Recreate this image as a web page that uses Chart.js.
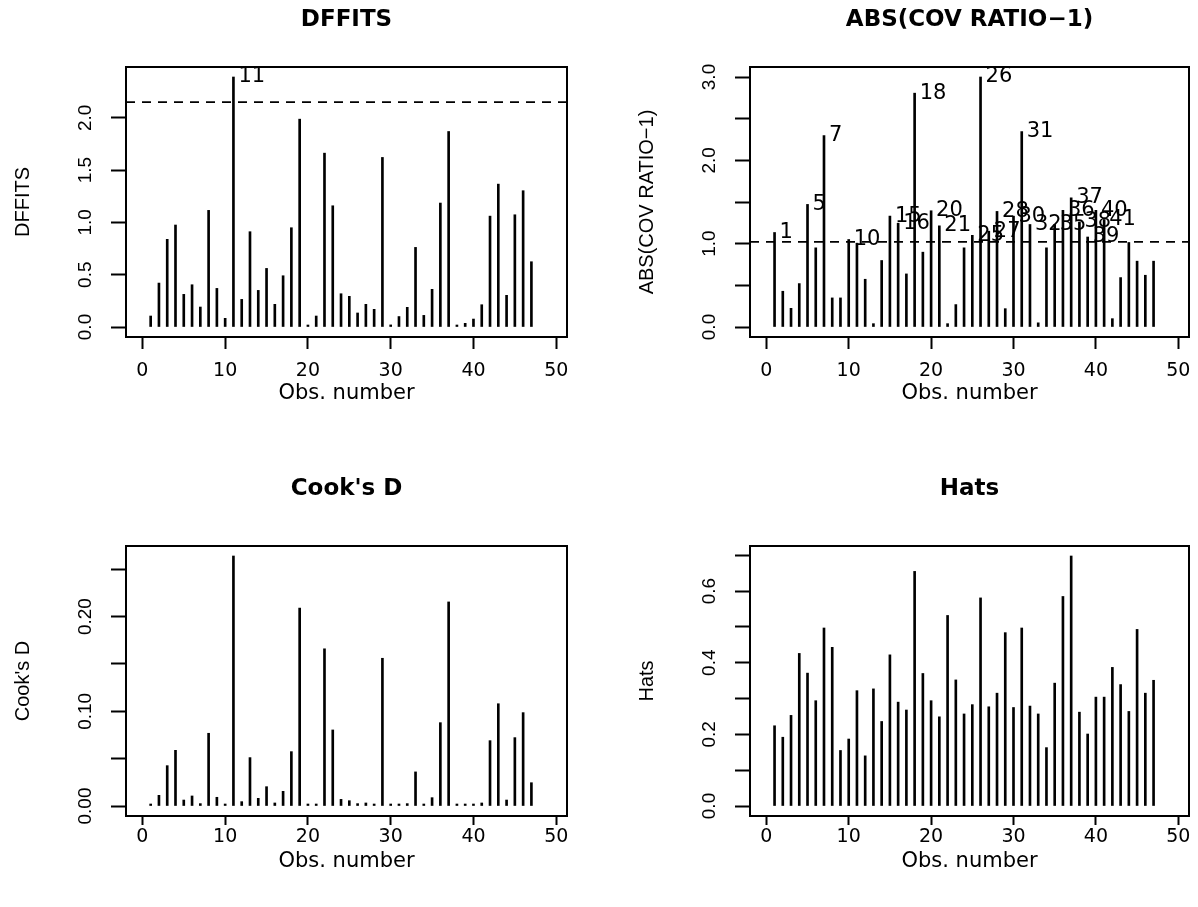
<!DOCTYPE html>
<html>
<head>
<meta charset="utf-8">
<script src="https://cdn.jsdelivr.net/npm/chart.js@4.4.0/dist/chart.umd.min.js"></script>
<style>
  html, body { margin: 0; padding: 0; background: #fff; }
  #wrap { position: relative; width: 1198px; height: 907px; overflow: hidden; background: #fff; }
  #wrap canvas { position: absolute; }
</style>
</head>
<body>
<div id="wrap">
  <canvas id="dffitsChart"></canvas>
  <canvas id="covChart"></canvas>
  <canvas id="cooksChart"></canvas>
  <canvas id="hatsChart"></canvas>
</div>
<script>
const obsNumbers = [1, 2, 3, 4, 5, 6, 7, 8, 9, 10, 11, 12, 13, 14, 15, 16, 17, 18, 19, 20,
  21, 22, 23, 24, 25, 26, 27, 28, 29, 30, 31, 32, 33, 34, 35, 36, 37, 38, 39, 40,
  41, 42, 43, 44, 45, 46, 47];
const dffitsValues = [0.105, 0.42, 0.838, 0.975, 0.312, 0.404, 0.191, 1.115, 0.369, 0.083,
  2.39, 0.264, 0.911, 0.35, 0.56, 0.217, 0.49, 0.949, 1.987, 0.01,
  0.105, 1.662, 1.159, 0.318, 0.293, 0.134, 0.217, 0.169, 1.621, 0.02,
  0.1, 0.188, 0.761, 0.111, 0.36, 1.185, 1.869, 0.01, 0.035, 0.076,
  0.213, 1.06, 1.366, 0.303, 1.073, 1.303, 0.624];
const covRatioValues = [1.134, 0.429, 0.224, 0.521, 1.471, 0.95, 2.297, 0.349, 0.349, 1.05,
  1.006, 0.573, 0.04, 0.798, 1.331, 1.246, 0.637, 2.806, 0.898, 1.395,
  1.214, 0.04, 0.269, 0.95, 1.10, 3.0, 1.15, 1.387, 0.22, 1.33,
  2.345, 1.23, 0.05, 0.95, 1.23, 1.40, 1.55, 1.26, 1.08, 1.40,
  1.29, 0.10, 0.593, 1.014, 0.79, 0.621, 0.79];
const cooksValues = [0.0007, 0.0113, 0.0426, 0.0588, 0.0063, 0.0106, 0.0025, 0.0768, 0.0092, 0.0007,
  0.264, 0.0046, 0.0511, 0.0081, 0.0204, 0.0032, 0.0155, 0.0574, 0.209, 0.0004,
  0.0007, 0.166, 0.0803, 0.007, 0.0056, 0.0025, 0.0032, 0.002, 0.156, 0.0007,
  0.001, 0.0025, 0.036, 0.001, 0.0088, 0.088, 0.2155, 0.0007, 0.0007, 0.0007,
  0.0032, 0.069, 0.108, 0.0063, 0.0722, 0.0986, 0.0246];
const hatValues = [0.224, 0.192, 0.253, 0.426, 0.371, 0.294, 0.497, 0.443, 0.155, 0.187,
  0.322, 0.14, 0.327, 0.236, 0.422, 0.29, 0.268, 0.655, 0.37, 0.294,
  0.249, 0.532, 0.352, 0.257, 0.283, 0.581, 0.277, 0.315, 0.484, 0.275,
  0.497, 0.279, 0.257, 0.163, 0.343, 0.585, 0.698, 0.262, 0.201, 0.304,
  0.304, 0.387, 0.339, 0.264, 0.493, 0.315, 0.351];

const dffitsCutoff = 2.15;
const covRatioCutoff = 1.022;

// tick positions and their labels
const xTicks = [0, 10, 20, 30, 40, 50];
const xTickLabels = ['0', '10', '20', '30', '40', '50'];
const dffitsTicks = [0, 0.5, 1, 1.5, 2];
const dffitsTickLabels = ['0.0', '0.5', '1.0', '1.5', '2.0'];
const covTicks = [0, 0.5, 1, 1.5, 2, 2.5, 3];
const covTickLabels = ['0.0', '', '1.0', '', '2.0', '', '3.0'];
const cooksTicks = [0, 0.05, 0.1, 0.15, 0.2, 0.25];
const cooksTickLabels = ['0.00', '', '0.10', '', '0.20', ''];
const hatTicks = [0, 0.1, 0.2, 0.3, 0.4, 0.5, 0.6, 0.7];
const hatTickLabels = ['0.0', '', '0.2', '', '0.4', '', '0.6', ''];

const xMin = -1.98;
const xMax = 51.3;

// layout shared by all panels (px inside each canvas)
const plotLeft = 126;
const yLabelCenter = 86;
const yTickSize = 19;
const titleSize = 23;
const xTickSize = 19;
const xTitleSize = 21;

// per-panel placement
const upperRow = { top: 0, height: 453, plotTop: 67, plotBottom: 337, titleY: 20, xLabelY: 371, xTitleY: 394, xTickLen: 12 };
const lowerRow = { top: 453, height: 454, plotTop: 93, plotBottom: 363, titleY: 36, xLabelY: 384, xTitleY: 409, xTickLen: 9 };
const leftCol = { left: 0, width: 599, plotRight: 567 };
const rightCol = { left: 624, width: 574, plotRight: 565 };

function textWidth(txt, font) {
  const c = document.createElement('canvas').getContext('2d');
  c.font = font;
  return c.measureText(txt).width;
}

const frameBox = {
  id: 'frameBox',
  afterDraw(chart) {
    const { ctx, chartArea: a } = chart;
    ctx.save();
    ctx.strokeStyle = '#000';
    ctx.lineWidth = 2;
    ctx.strokeRect(a.left, a.top, a.right - a.left, a.bottom - a.top);
    ctx.restore();
  }
};

const pointLabels = {
  id: 'pointLabels',
  afterDatasetsDraw(chart, args, opts) {
    if (!opts.cutoff) return;
    const { ctx } = chart;
    const xs = chart.scales.x, ys = chart.scales.y;
    ctx.save();
    ctx.font = '21px "DejaVu Sans"';
    ctx.fillStyle = '#000';
    ctx.textBaseline = 'middle';
    ctx.textAlign = 'left';
    chart.data.datasets[0].data.forEach(p => {
      if (p.y > opts.cutoff) {
        ctx.fillText(String(p.x), xs.getPixelForValue(p.x) + 5, ys.getPixelForValue(p.y));
      }
    });
    ctx.restore();
  }
};

function makePanel(canvasId, row, col, cfg) {
  const canvas = document.getElementById(canvasId);
  canvas.width = col.width;
  canvas.height = row.height;
  canvas.style.left = col.left + 'px';
  canvas.style.top = row.top + 'px';
  canvas.style.width = col.width + 'px';
  canvas.style.height = row.height + 'px';

  const peak = Math.max(...cfg.values);
  const yFont = yTickSize + 'px "Liberation Sans"';
  const widest = Math.max(...cfg.tickLabels.map(t => textWidth(t, yFont)));
  const yPad = plotLeft - 15 - widest / 2 - yLabelCenter;
  const titleLh = titleSize * 1.2;
  const titleTop = row.titleY - titleLh / 2;

  const datasets = [{
    type: 'bar',
    data: obsNumbers.map((n, i) => ({ x: n, y: cfg.values[i] })),
    backgroundColor: '#000',
    barThickness: 2,
    minBarLength: 2
  }];
  if (cfg.cutoff) {
    datasets.push({
      type: 'line',
      data: [{ x: xMin, y: cfg.cutoff }, { x: xMax, y: cfg.cutoff }],
      borderColor: '#000',
      borderWidth: 1.8,
      borderDash: [9, 7],
      pointRadius: 0,
      fill: false
    });
  }

  return new Chart(canvas.getContext('2d'), {
    type: 'bar',
    data: { datasets },
    options: {
      responsive: false,
      animation: false,
      layout: { padding: { left: 0, top: 0, bottom: 0, right: col.width - col.plotRight } },
      plugins: {
        legend: { display: false },
        tooltip: { enabled: false },
        title: {
          display: true,
          text: cfg.title,
          fullSize: false,
          color: '#000',
          font: { family: 'DejaVu Sans', size: titleSize, weight: 'bold' },
          padding: { top: titleTop, bottom: row.plotTop - titleTop - titleLh }
        },
        pointLabels: { cutoff: cfg.labelCutoff || 0 }
      },
      scales: {
        x: {
          type: 'linear',
          min: xMin,
          max: xMax,
          offset: false,
          afterBuildTicks: s => { s.ticks = xTicks.map(v => ({ value: v })); },
          afterFit: s => { s.height = row.height - row.plotBottom; s.paddingLeft = 0; s.paddingRight = 0; },
          grid: { offset: false, drawOnChartArea: false, drawTicks: true, tickLength: row.xTickLen, tickWidth: 2, tickColor: '#000', color: '#000' },
          border: { display: true, color: '#000', width: 2 },
          ticks: {
            autoSkip: false,
            maxRotation: 0,
            color: '#000',
            padding: Math.max(0, row.xLabelY - row.plotBottom - row.xTickLen - xTickSize * 0.6),
            font: { family: 'DejaVu Sans', size: xTickSize },
            callback: (v, i) => xTickLabels[i]
          },
          title: {
            display: true,
            text: 'Obs. number',
            color: '#000',
            font: { family: 'DejaVu Sans', size: xTitleSize },
            padding: { top: 0, bottom: row.height - row.xTitleY - xTitleSize * 0.6 }
          }
        },
        y: {
          type: 'linear',
          min: -0.04 * peak,
          max: 1.04 * peak,
          afterBuildTicks: s => { s.ticks = cfg.ticks.map(v => ({ value: v })); },
          afterFit: s => { s.width = plotLeft; s.paddingTop = 0; s.paddingBottom = 0; },
          grid: { drawOnChartArea: false, drawTicks: true, tickLength: 15, tickWidth: 2, tickColor: '#000', color: '#000' },
          border: { display: true, color: '#000', width: 2 },
          ticks: {
            autoSkip: false,
            minRotation: 90,
            maxRotation: 90,
            crossAlign: 'center',
            padding: yPad,
            color: '#000',
            font: { family: 'Liberation Sans', size: yTickSize },
            callback: (v, i) => cfg.tickLabels[i]
          },
          title: {
            display: true,
            text: cfg.yTitle,
            color: '#000',
            font: { family: 'Liberation Sans', size: 20 },
            padding: { top: 11, bottom: 0 }
          }
        }
      }
    },
    plugins: [frameBox, pointLabels]
  });
}

makePanel('dffitsChart', upperRow, leftCol, {
  title: 'DFFITS', yTitle: 'DFFITS', values: dffitsValues,
  ticks: dffitsTicks, tickLabels: dffitsTickLabels,
  cutoff: dffitsCutoff, labelCutoff: dffitsCutoff
});
makePanel('covChart', upperRow, rightCol, {
  title: 'ABS(COV RATIO\u22121)', yTitle: 'ABS(COV RATIO\u22121)', values: covRatioValues,
  ticks: covTicks, tickLabels: covTickLabels,
  cutoff: covRatioCutoff, labelCutoff: covRatioCutoff
});
makePanel('cooksChart', lowerRow, leftCol, {
  title: "Cook's D", yTitle: "Cook's D", values: cooksValues,
  ticks: cooksTicks, tickLabels: cooksTickLabels
});
makePanel('hatsChart', lowerRow, rightCol, {
  title: 'Hats', yTitle: 'Hats', values: hatValues,
  ticks: hatTicks, tickLabels: hatTickLabels
});
</script>
</body>
</html>
